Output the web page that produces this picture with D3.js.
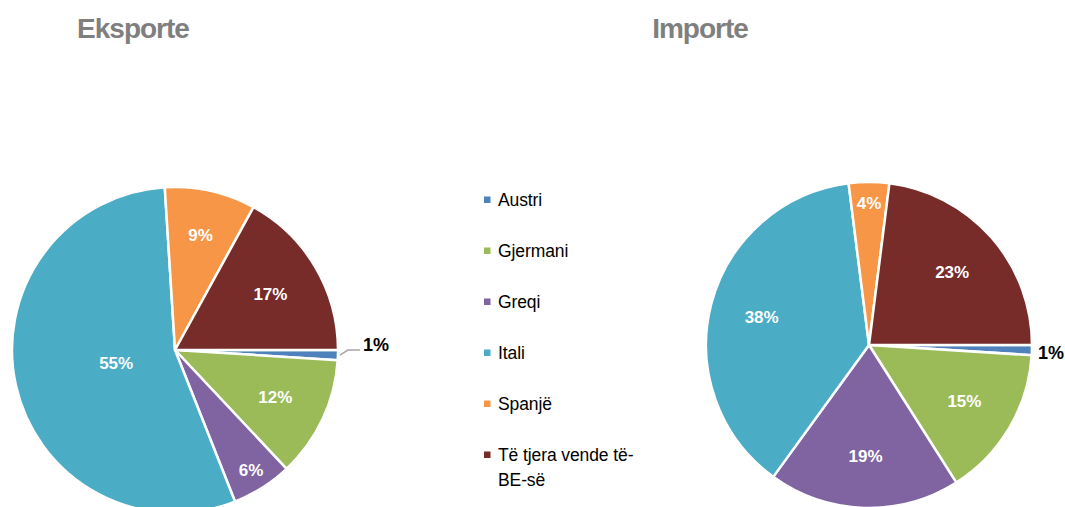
<!DOCTYPE html>
<html><head><meta charset="utf-8">
<script src="https://cdn.jsdelivr.net/npm/d3@7"></script>
<style>
html,body{margin:0;padding:0;background:#fff;overflow:hidden;}
svg{display:block;font-family:"Liberation Sans",Arial,sans-serif;}
</style></head>
<body>
<svg id="c" width="1065" height="507"></svg>
<script>
const categories = ["Austri","Gjermani","Greqi","Itali","Spanjë","Të tjera vende të-BE-së"];
const legendLines = [["Austri"],["Gjermani"],["Greqi"],["Itali"],["Spanjë"],["Të tjera vende të-","BE-së"]];
const colors = ["#4f81bd","#9bbb59","#8064a2","#4bacc6","#f79646","#772c2a"];
const exportValues = [1,12,6,55,9,17];
const importValues = [1,15,19,38,4,23];
const titles = ["Eksporte","Importe"];

const svg = d3.select("#c");
const R = 163;

function drawPie(values, cx, cy, leader){
  const g = svg.append("g").attr("transform",`translate(${cx},${cy})`);
  const pie = d3.pie().sort(null).startAngle(Math.PI/2).endAngle(Math.PI/2+2*Math.PI);
  const arcs = pie(values);
  const arc = d3.arc().innerRadius(0).outerRadius(R);
  g.selectAll("path").data(arcs).join("path")
    .attr("d",arc).attr("fill",(d,i)=>colors[i])
    .attr("stroke","#fff").attr("stroke-width",2.5).attr("stroke-linejoin","round");
  arcs.forEach((d,i)=>{
    const v = values[i];
    const mid = (d.startAngle+d.endAngle)/2;
    if(v<=2){
      const sx=Math.sin(mid), sy=-Math.cos(mid);
      if(leader){
        const p0=[R*sx+2, R*sy];
        g.append("polyline").attr("points",[[p0[0],p0[1]],[p0[0]+8,p0[1]-5],[p0[0]+20,p0[1]-5]].map(p=>p.join(",")).join(" "))
          .attr("fill","none").attr("stroke","#a6a6a6").attr("stroke-width",1.5);
        g.append("text").attr("x",p0[0]+23).attr("y",p0[1]-10).attr("dy","0.35em")
          .attr("font-size",18).attr("font-weight","bold").attr("fill","#000").text(v+"%");
      } else {
        g.append("text").attr("x",R*sx+6).attr("y",R*sy+3).attr("dy","0.35em")
          .attr("font-size",18).attr("font-weight","bold").attr("fill","#000").text(v+"%");
      }
      return;
    }
    let f = 0.68;
    if(v<=6) f=0.87; else if(v<10) f=0.72; else if(v>50) f=0.37;
    const x=Math.sin(mid)*R*f, y=-Math.cos(mid)*R*f;
    g.append("text").attr("x",x).attr("y",y).attr("dy","0.35em").attr("text-anchor","middle")
      .attr("font-size",17).attr("font-weight","bold").attr("fill","#fff").text(v+"%");
  });
}

drawPie(exportValues,175,350,true);
drawPie(importValues,869,345,false);

svg.append("text").attr("x",133).attr("y",38).attr("text-anchor","middle")
  .attr("font-size",28).attr("font-weight","bold").attr("fill","#7f7f7f").attr("letter-spacing","-1").text(titles[0]);
svg.append("text").attr("x",700).attr("y",38).attr("text-anchor","middle")
  .attr("font-size",28).attr("font-weight","bold").attr("fill","#7f7f7f").attr("letter-spacing","-1").text(titles[1]);

const ly = d3.scalePoint().domain(categories).range([200,455]);
const lg = svg.append("g");
categories.forEach((c,i)=>{
  const y = ly(c);
  lg.append("rect").attr("x",484).attr("y",y-3.5).attr("width",6.5).attr("height",6.5).attr("fill",colors[i]);
  legendLines[i].forEach((t,j)=>{
    lg.append("text").attr("x",498).attr("y",y+j*25).attr("dy","0.35em")
      .attr("font-size",17.5).attr("letter-spacing","-0.1").attr("fill","#000").text(t);
  });
});
</script>
</body></html>
